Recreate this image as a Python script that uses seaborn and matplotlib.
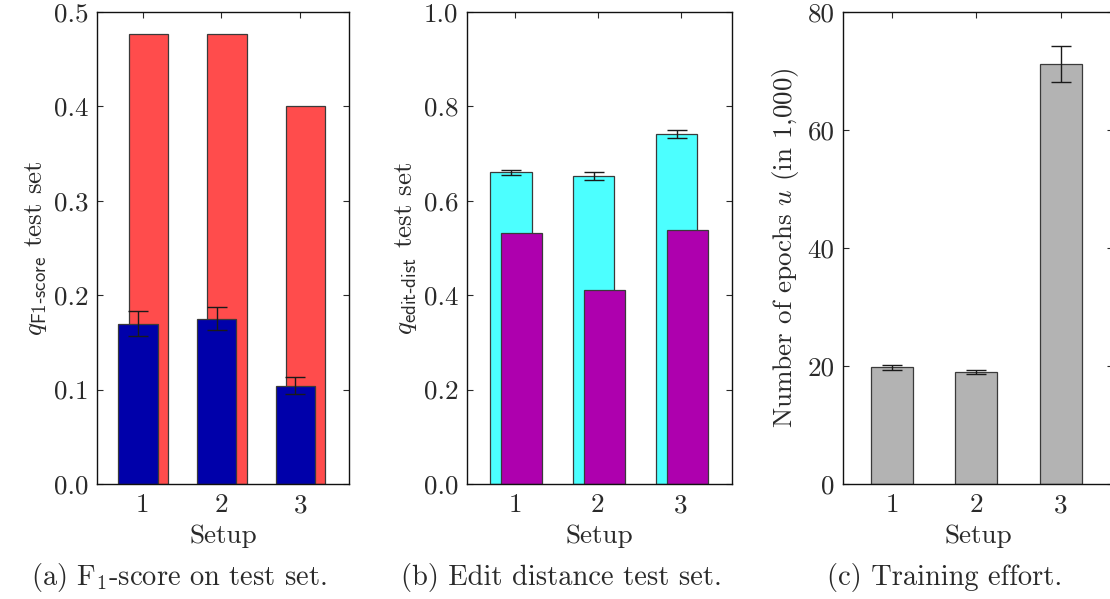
import numpy as np
import matplotlib
matplotlib.use('Agg')
import matplotlib.pyplot as plt
import seaborn as sns
from matplotlib.ticker import FormatStrFormatter

# Setups on the x axis
setups = [1, 2, 3]

# (a) F1-score on test set
f1_red = [0.477, 0.477, 0.400]
f1_blue = [0.170, 0.175, 0.104]
f1_blue_err = [0.013, 0.012, 0.009]

# (b) edit distance on test set
ed_cyan = [0.660, 0.652, 0.742]
ed_cyan_err = [0.006, 0.008, 0.009]
ed_magenta = [0.532, 0.410, 0.538]

# (c) training effort (epochs in 1,000)
epochs = [19.8, 19.0, 71.2]
epochs_err = [0.4, 0.4, 3.1]

RED = '#ff4c4c'
BLUE = '#0000aa'
CYAN = '#4cffff'
MAGENTA = '#ae00ae'
GREY = '#b3b3b3'
EDGE = '#3a3a3a'
HYPHEN = '\u2010'
FS = 19.5

sns.set_style('ticks')
plt.rcParams.update({
    'font.family': ['cmr10'],
    'mathtext.fontset': 'cm',
    'axes.formatter.use_mathtext': True,
    'axes.unicode_minus': False,
    'font.size': FS,
    'axes.labelsize': FS,
    'xtick.labelsize': FS,
    'ytick.labelsize': FS,
    'xtick.direction': 'in',
    'ytick.direction': 'in',
    'xtick.top': True,
    'ytick.right': True,
    'xtick.major.size': 4,
    'ytick.major.size': 4,
    'xtick.major.width': 0.8,
    'ytick.major.width': 0.8,
    'xtick.major.pad': 7,
    'ytick.major.pad': 6,
    'axes.edgecolor': '#111111',
    'axes.linewidth': 1.0,
    'text.color': '#2a2a2a',
    'axes.labelcolor': '#2a2a2a',
    'xtick.color': '#2a2a2a',
    'ytick.color': '#2a2a2a',
})

fig = plt.figure(figsize=(11.1, 5.99), dpi=100)
W, H = 1110, 599


def add_axes(left, right, top=12, bottom=484):
    return fig.add_axes([left / W, 1 - bottom / H, (right - left) / W, (bottom - top) / H])


def bars(ax, vals, shift, color, err=None):
    x = np.array(setups, dtype=float) + shift
    sns.barplot(x=x, y=vals, native_scale=True, width=0.5, color=color,
                saturation=1, edgecolor=EDGE, linewidth=0.9, errorbar=None, ax=ax)
    if err is not None:
        ax.errorbar(x, vals, yerr=err, fmt='none', ecolor='#1a1a1a',
                    elinewidth=1.0, capsize=7.5, capthick=1.0, zorder=5)


def style(ax, ymax, ystep, fmt):
    ax.set_xlim(0.42, 3.62)
    ax.set_xticks(setups)
    ax.set_xticklabels([str(s) for s in setups])
    ax.set_ylim(0, ymax)
    ax.set_yticks(np.arange(0, ymax + ystep / 2, ystep))
    ax.yaxis.set_major_formatter(FormatStrFormatter(fmt))
    ax.set_xlabel('Setup', labelpad=5)
    for sp in ax.spines.values():
        sp.set_visible(True)


# (a)
ax1 = add_axes(97, 349)
bars(ax1, f1_red, 0.07, RED)
bars(ax1, f1_blue, -0.06, BLUE, f1_blue_err)
style(ax1, 0.5, 0.1, '%.1f')
ax1.set_ylabel(r'$q_{\mathsf{F1' + HYPHEN + r'score}}$ test set')
ax1.yaxis.set_label_coords(-0.19, 0.5)

# (b)
ax2 = add_axes(467, 732)
bars(ax2, ed_cyan, -0.05, CYAN, ed_cyan_err)
bars(ax2, ed_magenta, 0.08, MAGENTA)
style(ax2, 1.0, 0.2, '%.1f')
ax2.set_ylabel(r'$q_{\mathsf{edit' + HYPHEN + r'dist}}$ test set')
ax2.yaxis.set_label_coords(-0.18, 0.5)

# (c)
ax3 = add_axes(843, 1113)
bars(ax3, epochs, 0.0, GREY, epochs_err)
style(ax3, 80, 20, '%d')
ax3.set_ylabel(r'Number of epochs $u$ (in 1,000)')
ax3.yaxis.set_label_coords(-0.155, 0.5)

# captions
cap = FS + 1
fig.text(179 / W, 1 - 578 / H, r'(a) F$_1$-score on test set.', ha='center', va='center', fontsize=cap)
fig.text(561 / W, 1 - 578 / H, '(b) Edit distance test set.', ha='center', va='center', fontsize=cap)
fig.text(945 / W, 1 - 578 / H, '(c) Training effort.', ha='center', va='center', fontsize=cap)

fig.savefig('out.png', dpi=100)
